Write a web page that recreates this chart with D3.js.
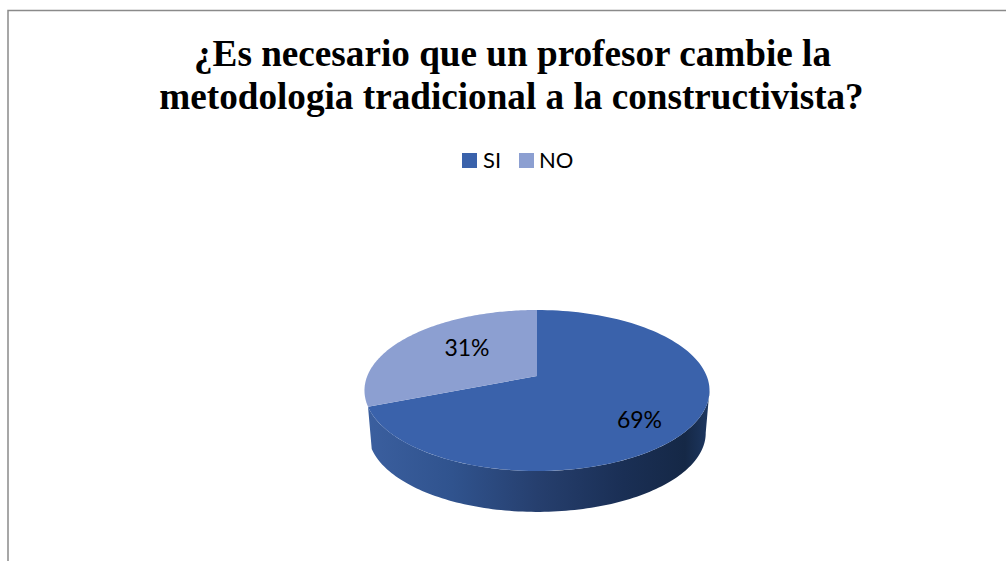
<!DOCTYPE html>
<html><head><meta charset="utf-8">
<script src="https://cdn.jsdelivr.net/npm/d3@7"></script>
<style>html,body{margin:0;background:#fff}svg{display:block}</style></head>
<body><svg id="c" width="1006" height="561"></svg>
<script>
const categories = ["SI","NO"];
const values = [69,31];
const colors = ["#3a62ab","#8c9fd1"];
const titleLines = ["¿Es necesario que un profesor cambie la","metodologia tradicional a la constructivista?"];
const svg = d3.select("#c");
const W=1006,H=561;
svg.append("path").attr("d",`M8 ${H}V10.5H${W}`).attr("fill","none").attr("stroke","#8a8a8a").attr("stroke-width",1.5);
svg.append("g").selectAll("text").data(titleLines).join("text")
  .attr("x",(d,i)=>[512.5,511.5][i]).attr("y",(d,i)=>[66,109][i]).attr("text-anchor","middle")
  .attr("font-family","Liberation Serif").attr("font-weight","bold").attr("font-size",37.2).attr("fill","#000").text(d=>d);
// legend
const legX=[462,519], legTx=[483,539];
const leg=svg.append("g").selectAll("g").data(categories).join("g");
leg.append("rect").attr("x",(d,i)=>legX[i]).attr("y",153).attr("width",15).attr("height",15).attr("fill",(d,i)=>colors[i]);
leg.append("text").attr("x",(d,i)=>legTx[i]).attr("y",168).attr("font-family","Lato").attr("font-size",22).attr("fill","#000").text(d=>d);
// pie with perspective
const cx=537,cy=376,persp=-0.18,ay=77.9,ex=169.7;
const arcs=d3.pie().sort(null)(values);
const proj=(t,s=1,dy=0)=>{const u=Math.sin(t),v=-Math.cos(t),k=1/(1+persp*v);return [cx+s*ex*u*k,cy+dy+s*ay*v*k];};
const samples=(a,b,n=120)=>d3.range(n+1).map(i=>a+(b-a)*i/n);
const defs=svg.append("defs");
const grad=defs.append("linearGradient").attr("id","side").attr("gradientUnits","userSpaceOnUse").attr("x1",366).attr("x2",709).attr("y1",0).attr("y2",0);
[[0,"#3b5f9f"],[0.25,"#30538e"],[0.5,"#263f6e"],[0.75,"#1a2f55"],[0.93,"#152846"],[1,"#1d3761"]].forEach(s=>grad.append("stop").attr("offset",s[0]).attr("stop-color",s[1]));
const line=d3.line();
const a0=100*Math.PI/180,a1=arcs[0].endAngle;
const rim=samples(a0,a1).map(t=>proj(t));
const low=samples(a1,a0).map(t=>proj(t,0.978,43));
svg.append("path").attr("d",line(rim.concat(low))+"Z").attr("fill","url(#side)");
svg.append("g").selectAll("path").data(arcs).join("path")
  .attr("d",d=>line([[cx,cy]].concat(samples(d.startAngle,d.endAngle).map(t=>proj(t))))+"Z")
  .attr("fill",(d,i)=>colors[i]);
const labelPos=[[639.5,428],[467,356]];
svg.append("g").selectAll("text").data(arcs).join("text")
  .attr("x",(d,i)=>labelPos[i][0]).attr("y",(d,i)=>labelPos[i][1]).attr("text-anchor","middle")
  .attr("font-family","Lato").attr("font-size",23).attr("fill","#000").text(d=>d.data+"%");
</script></body></html>
